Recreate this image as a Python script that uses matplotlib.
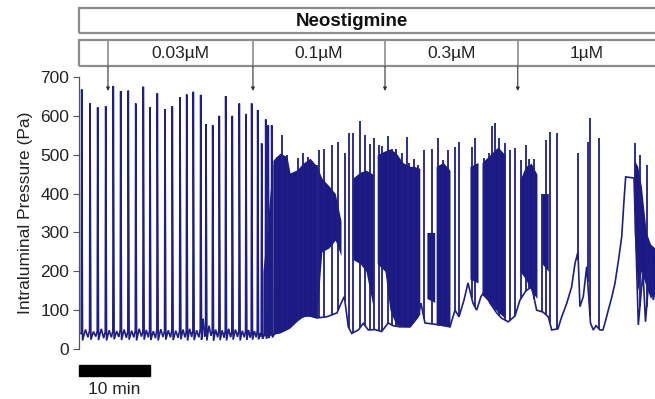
import matplotlib
matplotlib.use("Agg")
import matplotlib.pyplot as plt
import numpy as np
from matplotlib.patches import Rectangle

plt.rcParams['font.family'] = ['Liberation Sans', 'DejaVu Sans']

# ---------------- data (time in minutes, pressure in Pa) ----------------
dose_labels = ["0.03\u00b5M", "0.1\u00b5M", "0.3\u00b5M", "1\u00b5M"]
dose_times = [4.08, 24.5, 43.1, 61.8]
trace_end = 81.13

# segment 1: regular phasic contractions
seg1_t = [0.38, 1.55, 2.63, 3.76, 4.83, 5.87, 6.94, 7.99, 9.06, 10.0,
          11.03, 12.11, 13.14, 14.23, 15.17, 16.10, 17.14, 17.89, 18.83, 19.76,
          20.66, 21.59, 22.58, 23.52, 24.32, 25.17, 25.73, 26.30, 26.66, 27.14]
seg1_peak = [668, 632, 622, 625, 677, 664, 665, 632, 675, 622,
             658, 617, 625, 648, 655, 662, 654, 579, 576, 600,
             651, 600, 632, 605, 632, 615, 529, 591, 576, 576]
seg1_foot = [40, 48, 46, 45, 47, 50, 46, 48, 45, 47, 50, 46, 48, 47, 45,
             48, 52, 50, 46, 48, 47, 45, 48, 46, 45, 47, 44, 42, 45, 46]
seg1_trough = [22, 24, 23, 22, 25, 23, 24, 22, 24, 23, 22, 24, 23, 25, 22,
               23, 24, 22, 21, 23, 22, 24, 22, 23, 24, 25, 26, 27, 28, 30]
seg1_bump = [50, 45, 52, 48, 46, 50, 47, 52, 49, 46, 51, 48, 47, 50, 52,
             48, 78, 60, 50, 48, 52, 50, 47, 49, 46, 40, 38, 40, 42, 40]
seg1_dip = [30, 32, 28, 30, 31, 29, 30, 32, 30, 28, 31, 30, 29, 30, 31,
            30, 32, 34, 30, 29, 30, 31, 30, 29, 30, 32, 33, 34, 35, 36]

# later baseline (slow wave under the bursts)
base_t = [27.6, 28.31, 29.72, 31.13, 32.11, 33.52, 34.93, 36.34, 36.90, 37.37,
          37.93, 38.41, 39.34, 40.04, 40.75, 41.69, 42.63, 43.56, 44.23, 45.21,
          46.62, 47.75, 48.17, 48.73, 50.85, 52.25, 52.96, 53.52, 54.23, 54.79,
          55.49, 56.01, 56.62, 57.18, 57.89, 58.83, 59.54, 60.46, 61.41, 62.11,
          62.96, 63.76, 64.46, 65.35, 66.10, 66.58, 67.46, 67.99, 68.69, 69.39,
          69.86, 70.28, 70.56, 71.03, 71.51, 72.04, 72.44, 72.82, 73.38, 73.80,
          74.20, 74.55, 75.00, 75.49, 76.00, 76.44, 76.80, 77.00, 78.17, 78.78,
          79.44, 79.79, 80.18, 80.42, 80.89, 81.13]
base_v = [40, 42, 55, 80, 87, 80, 83, 93, 117, 135,
          57, 40, 49, 66, 49, 50, 45, 67, 60, 57,
          57, 83, 118, 67, 62, 57, 100, 83, 126, 170,
          118, 100, 135, 150, 118, 93, 79, 70, 85, 126,
          150, 160, 100, 95, 83, 49, 52, 83, 117, 160,
          220, 250, 109, 135, 212, 67, 49, 60, 49, 49,
          75, 100, 130, 169, 230, 289, 392, 443, 440, 62,
          200, 70, 160, 250, 126, 150]

# isolated spikes riding on the baseline / bursts
spike_t = [27.85, 28.55, 29.25, 30.89, 31.59, 32.30, 33.00, 33.48, 33.85, 34.55,
           35.59, 36.52, 37.46, 38.03, 38.63, 39.58, 40.28, 40.99, 41.59, 42.25,
           42.72, 43.48, 44.13, 44.65, 45.45, 46.15, 46.52, 47.18, 47.79, 48.63,
           49.68, 50.61, 51.31, 52.01, 52.96, 53.56, 55.31, 55.77, 57.04, 57.79,
           58.13, 58.59, 59.20, 60.00, 60.70, 61.41, 62.25, 62.96, 63.42, 64.13,
           65.17, 65.73, 66.34, 67.28, 70.32, 71.65, 71.97, 73.24, 78.31, 79.01,
           79.96]
spike_peak = [495, 551, 499, 492, 505, 494, 475, 473, 512, 514,
              525, 534, 504, 555, 557, 588, 551, 528, 542, 525,
              522, 548, 514, 515, 504, 546, 478, 489, 473, 512,
              514, 542, 486, 512, 520, 534, 519, 542, 491, 505,
              574, 582, 542, 529, 512, 516, 486, 525, 488, 488,
              400, 538, 559, 555, 504, 534, 594, 542, 529, 499,
              473]

# dense high-frequency bursts: envelopes
burst_t = [[25.9, 26.4, 26.9, 27.32],
           [27.32, 28.31, 29.30, 29.72, 30.70, 31.55, 32.54, 33.52],
           [33.52, 34.2, 35.2, 36.1, 36.9],
           [38.59, 39.58, 40.42, 41.41],
           [42.0, 43.1, 43.8, 44.65, 45.6, 46.6, 47.2, 48.0],
           [49.0, 50.1],
           [50.3, 51.3, 52.25],
           [55.07, 56.2],
           [56.76, 57.9, 59.0, 60.0],
           [62.11, 62.9, 63.7, 64.5],
           [65.2, 66.1],
           [78.2, 78.7, 79.2, 79.9, 80.5, 81.13]]
burst_hi = [[200, 290, 400, 486],
            [486, 504, 495, 453, 461, 478, 491, 470],
            [470, 440, 420, 400, 330],
            [440, 455, 460, 450],
            [500, 510, 515, 505, 480, 470, 470, 465],
            [300, 300],
            [470, 480, 460],
            [470, 480],
            [480, 500, 520, 500],
            [435, 470, 478, 450],
            [400, 400],
            [486, 470, 420, 300, 270, 260]]
burst_lo = [[34, 35, 36, 38],
            [38, 42, 50, 55, 72, 83, 85, 80],
            [85, 250, 260, 280, 240],
            [230, 220, 200, 110],
            [220, 200, 100, 62, 58, 57, 70, 90],
            [130, 120],
            [62, 60, 57],
            [180, 170],
            [140, 118, 95, 80],
            [200, 180, 150, 130],
            [220, 200],
            [300, 150, 200, 160, 130, 150]]

# ---------------- figure ----------------
W, H = 655, 399
fig = plt.figure(figsize=(W / 100, H / 100), dpi=100)
ax = fig.add_axes([79 / W, 50 / H, 576 / W, 272 / H])
ax.set_xlim(0, trace_end)
ax.set_ylim(0, 700)

col = '#1e1e86'
fs = 12.5

# build segment-1 polyline from its knots
tt, vv = [0.0], [40.0]
for i, t in enumerate(seg1_t):
    nxt = seg1_t[i + 1] if i + 1 < len(seg1_t) else t + 0.5
    dt = nxt - t
    tt += [t - 0.06, t, t + 0.12, t + 0.45 * dt, t + 0.75 * dt]
    vv += [seg1_foot[i], seg1_peak[i], seg1_trough[i], seg1_bump[i], seg1_dip[i]]
tt += list(base_t)
vv += list(base_v)
ax.plot(tt, vv, color=col, lw=1.2, solid_joinstyle='miter')

for bt, bh, bl in zip(burst_t, burst_hi, burst_lo):
    ax.fill_between(bt, bl, bh, color='#1a1a82', lw=0)

spike_base = np.interp(spike_t, base_t, base_v)
ax.vlines(spike_t, spike_base, spike_peak, color=col, lw=1.3)

# axis styling
for s in ['top', 'right', 'bottom']:
    ax.spines[s].set_visible(False)
ax.spines['left'].set_color('#555555')
ax.spines['left'].set_linewidth(0.9)
ax.set_xticks([])
ax.set_yticks(np.arange(0, 701, 100))
ax.tick_params(axis='y', direction='out', length=4, width=0.8, color='#555555',
               labelsize=fs, labelcolor='#222222', pad=3)
ax.set_ylabel('Intraluminal Pressure (Pa)', fontsize=fs, color='#222222', labelpad=5)

# helper: convert figure pixel row to data y
def py(p):
    return (349 - p) / (272 / 700)

# Neostigmine box
gray = '#8c8c8c'
ax.add_patch(Rectangle((0, py(33)), trace_end + 5, py(8) - py(33), fill=False,
                       ec=gray, lw=1.6, clip_on=False))
ax.text(38.45, py(21), 'Neostigmine', ha='center', va='center', fontsize=13.5,
        fontweight='bold', color='#111111', clip_on=False)
# dose box
ax.add_patch(Rectangle((0, py(66)), trace_end + 5, py(40) - py(66), fill=False,
                       ec=gray, lw=1.6, clip_on=False))
edges = dose_times + [trace_end]
for i, lab in enumerate(dose_labels):
    ax.text((edges[i] + edges[i + 1]) / 2, py(53.5), lab, ha='center', va='center',
            fontsize=fs, color='#222222', clip_on=False)
for t in dose_times:
    ax.plot([t, t], [py(40), py(66)], color=gray, lw=1.2, clip_on=False)
    ax.annotate('', xy=(t, py(91)), xytext=(t, py(66)),
                arrowprops=dict(arrowstyle='-|>', color='#333333', lw=0.8,
                                mutation_scale=5, shrinkA=0, shrinkB=0),
                annotation_clip=False)

# scale bar
ax.add_patch(Rectangle((0, py(376)), 10, py(365) - py(376), color='black',
                       clip_on=False))
ax.text(5, py(389), '10 min', ha='center', va='center', fontsize=fs,
        color='#222222', clip_on=False)

fig.savefig('out.png', dpi=100)
